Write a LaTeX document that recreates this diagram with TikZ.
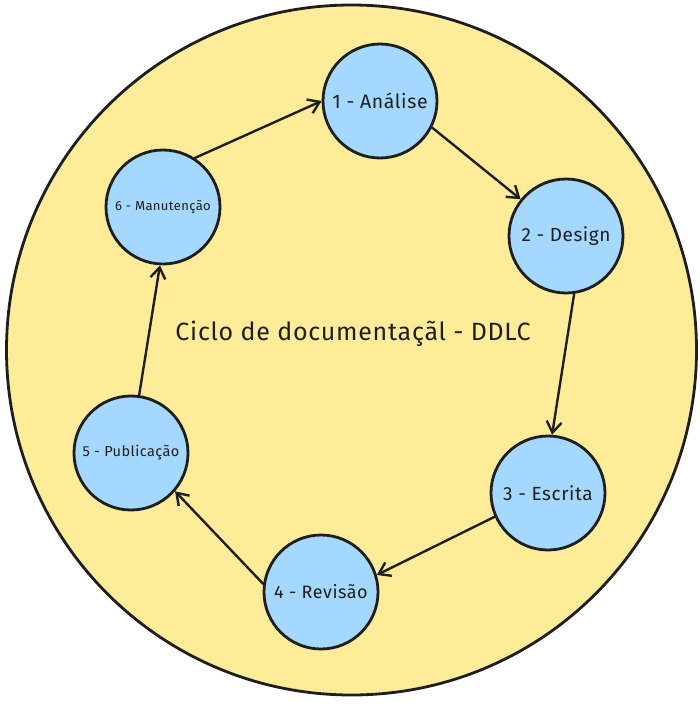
\documentclass[tikz,border=0pt]{standalone}
\usepackage{fontspec}
\setmainfont{Fira Sans}[LetterSpace=3]
\usetikzlibrary{arrows.meta}

\definecolor{fundo}{HTML}{FFEC99}
\definecolor{azulEtapa}{HTML}{A5D8FF}
\definecolor{traco}{HTML}{1E1E1E}

\begin{document}
\begin{tikzpicture}[x=1pt, y=-1pt, line cap=round, line join=round,
  etapa/.style={circle, draw=traco, fill=azulEtapa, line width=2.8pt,
                minimum size=114pt, inner sep=0pt, text=traco},
  seta/.style={draw=traco, line width=2.4pt,
               -{Straight Barb[length=11pt,width=15pt,line width=2.4pt]}}]

  %% ════ círculo de fundo ════
  \draw[draw=traco, fill=fundo, line width=2.8pt] (351.5,350.0) circle[radius=345];

  %% ════ título ════
  \node[text=traco, font=\fontsize{25}{30}\selectfont] (titulo) at (353,334) {Ciclo de documentaçãl - DDLC};

  %% ════ etapas ════
  \node[etapa, font=\fontsize{19.5}{23}\selectfont] (analise)    at (380,101) {1 - Análise};
  \node[etapa, font=\fontsize{19}{23}\selectfont]   (design)     at (566,236) {2 - Design};
  \node[etapa, font=\fontsize{19}{23}\selectfont]   (escrita)    at (548,493) {3 - Escrita};
  \node[etapa, font=\fontsize{18}{22}\selectfont]   (revisao)    at (321,592) {4 - Revisão};
  \node[etapa, font=\fontsize{14.5}{17}\selectfont] (publicacao) at (131,453) {5 - Publicação};
  \node[etapa, font=\fontsize{13}{16}\selectfont]   (manutencao) at (163,207) {6 - Manutenção};

  %% ════ setas do ciclo ════
  % âncoras por ângulo: as setas não passam pelos centros
  \draw[seta] (manutencao.57)   -- (analise.180);
  \draw[seta] (analise.-27)     -- (design.141);
  \draw[seta] (design.-82)      -- (escrita.86);
  \draw[seta] (escrita.-156)    -- (revisao.17);
  \draw[seta] (revisao.172)     -- (publicacao.-41);
  \draw[seta] (publicacao.82)   -- (manutencao.-93);

  % tela fixa 700 x 707
  \pgfresetboundingbox
  \path[use as bounding box] (0,0) rectangle (700,707);
\end{tikzpicture}
\end{document}
